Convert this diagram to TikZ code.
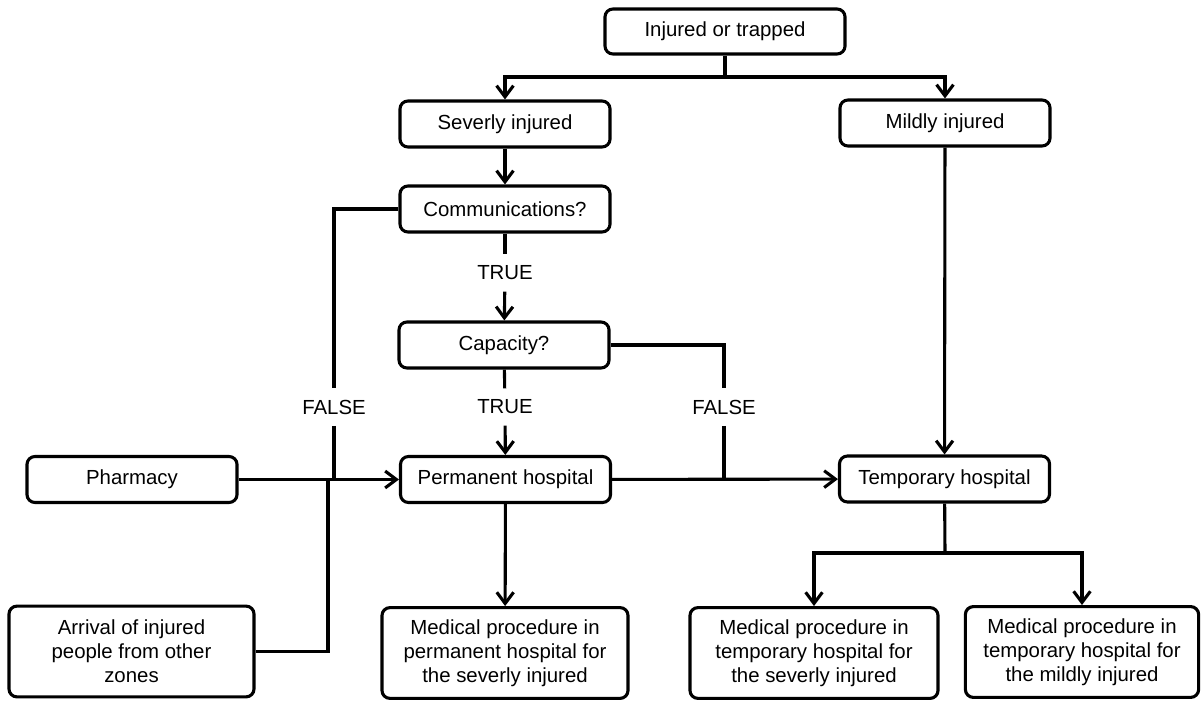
\documentclass[tikz,border=0pt]{standalone}
\usepackage{fontspec}
\setmainfont{Liberation Sans}
\usetikzlibrary{arrows.meta}
\tikzset{box/.style={draw, line width=2.2pt, rounded corners=0.2cm, align=center, minimum width=5.25cm, minimum height=1.15cm, inner sep=1pt, font=\fontsize{14.5pt}{17pt}\selectfont},
  bigbox/.style={box, minimum height=2.27cm},
  lbl/.style={inner xsep=3pt, inner ysep=8pt, font=\fontsize{14.5pt}{17pt}\selectfont},
  line/.style={line width=2.2pt},
  arr/.style={line, -{Straight Barb[length=0.28cm,width=0.42cm]}}}

\begin{document}
\begin{tikzpicture}[x=0.025cm, y=-0.025cm]
  \useasboundingbox (0,0) rectangle (1202,702);

  \node[box, minimum width=6cm, minimum height=1.125cm] (inj) at (725,31.5) {Injured or trapped};
  \node[box] (sev)   at (505,124)   {Severly injured};
  \node[box] (mild)  at (945,123)   {Mildly injured};
  \node[box] (comm)  at (505,209)   {Communications?};
  \node[box] (cap)   at (504,345)   {Capacity?};
  \node[box] (pharm) at (132,479.5) {Pharmacy};
  \node[box] (perm)  at (505.5,479.5) {Permanent hospital};
  \node[box] (temp)  at (944.5,479) {Temporary hospital};
  \node[bigbox, minimum width=6.125cm] (arr)    at (131.5,651.5) {Arrival of injured\\people from other\\zones};
  \node[bigbox, minimum width=6.15cm]  (mperm)  at (505,653) {Medical procedure in\\permanent hospital for\\the severly injured};
  \node[bigbox, minimum width=6.2cm]   (mtsev)  at (814,653) {Medical procedure in\\temporary hospital for\\the severly injured};
  \node[bigbox, minimum width=5.83cm]  (mtmild) at (1082,652) {Medical procedure in\\temporary hospital for\\the mildly injured};

  \node[lbl] (t1) at (505,273) {TRUE};
  \node[lbl] (t2) at (505,407) {TRUE};
  \node[lbl] (f1) at (334,407) {FALSE};
  \node[lbl] (f2) at (724,407) {FALSE};

  \coordinate (j0) at (725,77);
  \coordinate (j1) at (334,480);
  \coordinate (j2) at (328,480);
  \coordinate (j3) at (724,480);
  \coordinate (j4) at (945,553);

  \draw[line] (inj) -- (j0);
  \draw[arr]  (j0) -| (sev);
  \draw[arr]  (j0) -| (mild);
  \draw[arr]  (sev) -- (comm);
  \draw[line] (comm) -- (t1);
  \draw[arr]  (t1) -- (cap);
  \draw[line] (cap) -- (t2);
  \draw[arr]  (t2) -- (perm);
  \draw[line] (comm.west) -| (f1);
  \draw[line] (f1) -- (j1);
  \draw[line] (cap.east) -| (f2);
  \draw[line] (f2) -- (j3);
  \draw[line] (arr.east) -| (j2);
  \draw[arr]  (pharm) -- (perm);
  \draw[arr]  (perm) -- (temp);
  \draw[arr]  (mild) -- (temp);
  \draw[arr]  (perm) -- (mperm);
  \draw[line] (temp) -- (j4);
  \draw[arr]  (j4) -| (mtsev);
  \draw[arr]  (j4) -| (mtmild);
\end{tikzpicture}
\end{document}
